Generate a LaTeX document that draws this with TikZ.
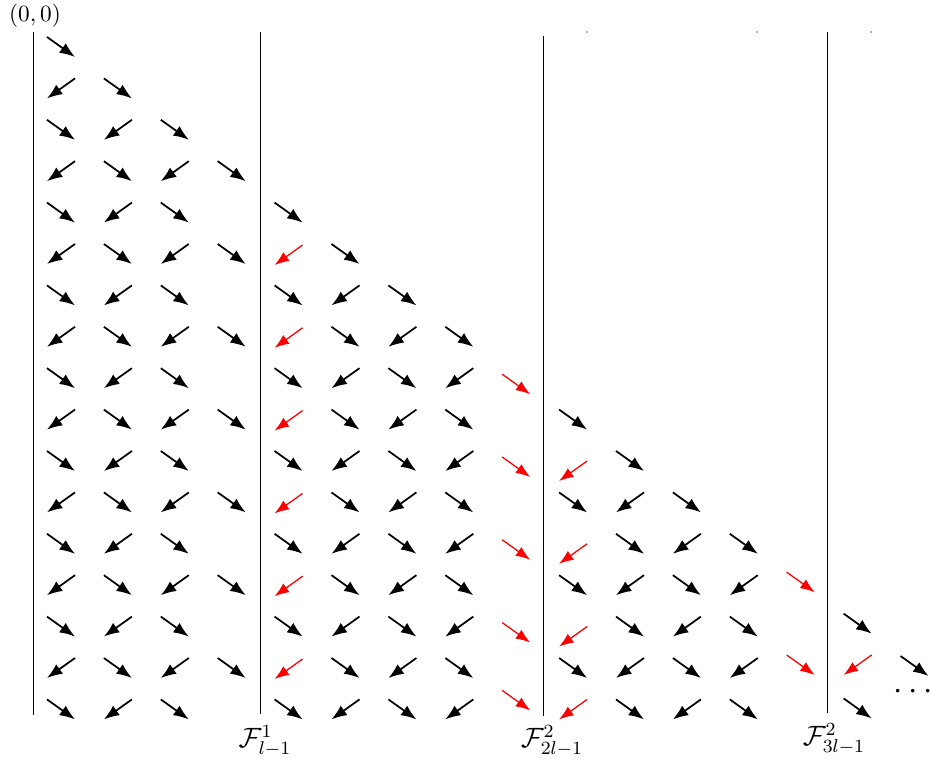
\documentclass[tikz,border=0pt]{standalone}
\usetikzlibrary{arrows.meta}
\tikzset{
  blk/.style={line width=0.75pt, -{Latex[length=6.6pt,width=5pt]}},
  redarr/.style={line width=0.55pt, red, -{Latex[length=6.2pt,width=4.6pt]}},
  vline/.style={line width=0.4pt},
  lbl/.style={inner sep=1pt},
  tinydot/.style={fill=black!60}
}
% arrow pointing down-right at column #1, row #2, style #3, vertical offset #4 (px)
\newcommand{\vfSE}[4]{\draw[#3] ({47+56.9*#1},{37+41.4*#2+#4}) -- ++(28,20);}
% arrow pointing down-left
\newcommand{\vfSW}[4]{\draw[#3] ({75+56.9*#1},{37+41.4*#2+#4}) -- ++(-28,20);}
\begin{document}
\begin{tikzpicture}[x=0.43pt,y=-0.43pt]
\useasboundingbox (0,0) rectangle (930,761);

% vertical lines
\coordinate (l0t) at (33,32);  \coordinate (l0b) at (33,715);
\coordinate (l1t) at (260,32); \coordinate (l1b) at (260,714);
\coordinate (l2t) at (543,36); \coordinate (l2b) at (543,716);
\coordinate (l3t) at (827,32); \coordinate (l3b) at (827,713);
\draw[vline] (l0t) -- (l0b);
\draw[vline] (l1t) -- (l1b);
\draw[vline] (l2t) -- (l2b);
\draw[vline] (l3t) -- (l3b);

% regular columns
\foreach \j in {0,1,2,5,6,7,10,11,12} {
  \foreach \i in {\j,...,16} {
    \pgfmathtruncatemacro\parity{mod(\i+\j,2)}
    \ifnum\parity=0 \vfSE{\j}{\i}{blk}{0}\else \vfSW{\j}{\i}{blk}{0}\fi
  }
}
\vfSE{15}{15}{blk}{-2}

% column 3: only down-right arrows
\foreach \i in {3,5,...,15} { \vfSE{3}{\i}{blk}{0} }
% column 4
\foreach \i in {4,6,...,16} { \vfSE{4}{\i}{blk}{0} }
\foreach \i in {5,7,...,15} { \vfSW{4}{\i}{redarr}{1} }
% column 8
\foreach \i in {8,10,12,14} { \vfSE{8}{\i}{redarr}{6} }
\vfSE{8}{16}{redarr}{-9}
% column 9
\foreach \i in {9,11,13,15} { \vfSE{9}{\i}{blk}{0} }
\foreach \i in {10,12,14} { \vfSW{9}{\i}{redarr}{10} }
\vfSW{9}{16}{redarr}{0}
% column 13
\foreach \i in {13,15} { \vfSE{13}{\i}{redarr}{-3} }
% column 14
\vfSE{14}{14}{blk}{-3}
\vfSE{14}{16}{blk}{-1}
\vfSW{14}{15}{redarr}{-3}

% labels
\node[lbl] (origin) at (35,16) {$(0,0)$};
\node[lbl, font=\large] (f1) at (265,741) {$\mathcal{F}^1_{l-1}$};
\node[lbl, font=\large] (f2) at (552,741) {$\mathcal{F}^2_{2l-1}$};
\node[lbl, font=\large] (f3) at (834,739) {$\mathcal{F}^2_{3l-1}$};
\node[lbl, anchor=base] (dots) at (913,699) {\Large$\cdots$};

% tiny marks at the top
\fill[tinydot] (587,32) circle (0.35pt);
\fill[tinydot] (757,32) circle (0.35pt);
\fill[tinydot] (871,32) circle (0.35pt);
\end{tikzpicture}
\end{document}
